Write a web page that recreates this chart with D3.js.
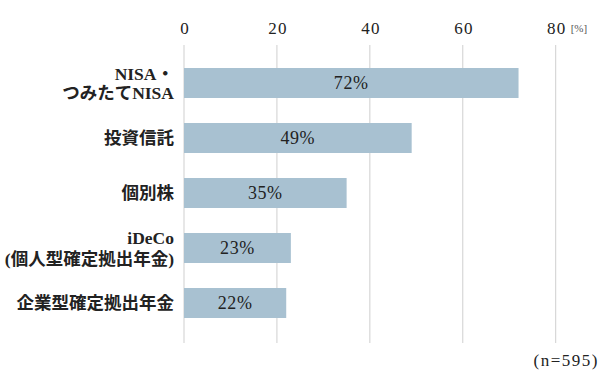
<!DOCTYPE html>
<html><head><meta charset="utf-8">
<script src="https://cdn.jsdelivr.net/npm/d3@7"></script>
<style>
html,body{margin:0;padding:0;background:#fff;}
svg{display:block;}
</style></head><body>
<script>
const categories = [["NISA・","つみたてNISA"],["投資信託"],["個別株"],["iDeCo","(個人型確定拠出年金)"],["企業型確定拠出年金"]];
const values = [72, 49, 35, 23, 22];
const valueLabels = ["72%","49%","35%","23%","22%"];
const ticks = [0, 20, 40, 60, 80];
const unitLabel = "[%]";
const note = "(n=595)";

const FONT = "'Liberation Serif','DejaVu Serif','Noto Sans CJK JP',serif";
const W = 600, H = 373;
const svg = d3.select("body").append("svg").attr("width", W).attr("height", H)
  .style("font-family", FONT);

const x = d3.scaleLinear().domain([0, 80]).range([184, 555.7]);
const y = d3.scaleBand().domain(d3.range(values.length)).range([55.5, 330.5]).paddingInner(0.4545).paddingOuter(0.2273);

// gridlines
svg.append("g").selectAll("line").data(ticks).join("line")
  .attr("x1", d => x(d)).attr("x2", d => x(d))
  .attr("y1", 45).attr("y2", 343)
  .attr("stroke", "#cfcfcf").attr("stroke-width", 1);

// axis on top
const axis = d3.axisTop(x).tickValues(ticks).tickSize(0).tickPadding(0);
const ag = svg.append("g").attr("transform", "translate(0,33.5)").call(axis)
  .attr("font-family", null).attr("font-size", null);
ag.select(".domain").remove();
ag.selectAll("text").style("font-size", "17px").style("fill", "#222")
  .style("letter-spacing", "1.2px")
  .style("font-family", FONT).attr("dy", 0).attr("dx", 0.6);

svg.append("text").attr("x", x(80) + 15).attr("y", 32)
  .style("font-size", "11px").style("fill", "#555").style("font-family", FONT).text(unitLabel);

// bars
svg.append("g").selectAll("rect").data(values).join("rect")
  .attr("x", x(0)).attr("y", (d, i) => y(i))
  .attr("width", d => x(d) - x(0)).attr("height", y.bandwidth())
  .attr("fill", "#a8c1d1");

// value labels
svg.append("g").selectAll("text").data(values).join("text")
  .attr("x", d => (x(0) + x(d)) / 2)
  .attr("y", (d, i) => y(i) + y.bandwidth() / 2)
  .attr("dy", "0.35em").attr("text-anchor", "middle")
  .style("font-size", "18px").style("fill", "#222").style("font-family", FONT)
  .style("letter-spacing", "0.6px")
  .text((d, i) => valueLabels[i]);

// category labels
const cg = svg.append("g").selectAll("text").data(categories).join("text")
  .attr("text-anchor", "end").style("font-size", "17.5px").style("font-weight", "bold")
  .style("fill", "#222").style("font-family", FONT);
cg.each(function(lines, i) {
  const cy = y(i) + y.bandwidth() / 2;
  const lh = lines.length > 1 ? (i === 3 ? 21 : 19) : 0;
  const t = d3.select(this);
  lines.forEach((ln, j) => {
    t.append("tspan").attr("x", 174)
      .attr("y", cy + (j - (lines.length - 1) / 2) * lh)
      .attr("dy", "0.36em").text(ln);
  });
});

svg.append("text").attr("x", 599).attr("y", 366).attr("text-anchor", "end")
  .style("font-size", "17px").style("letter-spacing", "1.5px")
  .style("fill", "#222").style("font-family", FONT).text(note);
</script>
</body></html>
